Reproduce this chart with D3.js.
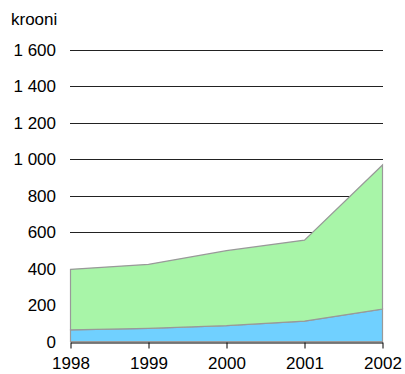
<!DOCTYPE html>
<html><head><meta charset="utf-8">
<script src="https://cdn.jsdelivr.net/npm/d3@7"></script>
<style>body{margin:0;background:#fff}svg{display:block}text{font-family:"Liberation Sans",Arial,sans-serif;font-size:17px;fill:#000}</style>
</head><body>
<svg id="c" width="405" height="374"></svg>
<script>
const years = [1998, 1999, 2000, 2001, 2002];
const seriesA = [65, 73, 88, 113, 179];
const seriesB = [332, 351, 411, 444, 790];
const yTicks = [0, 200, 400, 600, 800, 1000, 1200, 1400, 1600];
const unitLabel = "krooni";

const svg = d3.select("#c");
const x = d3.scaleLinear().domain([1998, 2002]).range([70.5, 382.5]);
const y = d3.scaleLinear().domain([0, 1600]).range([341.7, 49.9]);
const fmt = v => d3.format(",")(v).replace(/,/g, "\u00a0");

// gridlines
svg.append("g").selectAll("line").data(yTicks.filter(d => d > 0)).join("line")
  .attr("x1", 70).attr("x2", 383)
  .attr("y1", d => Math.round(y(d)) + 0.5).attr("y2", d => Math.round(y(d)) + 0.5)
  .attr("stroke", "#222").attr("stroke-width", 1);

const data = years.map((yr, i) => ({yr, a: seriesA[i], b: seriesB[i]}));
const stack = d3.stack().keys(["a", "b"])(data);
const colors = ["#70d0ff", "#a8f5a8"];
const area = d3.area().x(d => x(d.data.yr)).y0(d => y(d[0])).y1(d => y(d[1]));
svg.append("g").selectAll("path").data(stack).join("path")
  .attr("d", area).attr("fill", (d, i) => colors[i])
  .attr("stroke", "#999").attr("stroke-width", 1.2);

// y labels
svg.append("g").selectAll("text").data(yTicks).join("text")
  .attr("x", 56).attr("y", d => y(d) + 6).attr("text-anchor", "end").text(fmt);

svg.append("text").attr("x", 11).attr("y", 25).text(unitLabel);

// x axis
const xAxis = d3.axisBottom(x).tickValues(years).tickFormat(d3.format("d")).tickSize(6).tickSizeOuter(0);
const gx = svg.append("g").attr("transform", `translate(0,${Math.round(y(0)) + 0.5})`).call(xAxis);
gx.select(".domain").attr("stroke", "#000");
gx.selectAll(".tick line").attr("stroke", "#000");
gx.selectAll(".tick text").attr("font-size", 17).attr("font-family", "Liberation Sans, Arial, sans-serif")
  .attr("dy", null).attr("y", 26.5).attr("fill", "#000");
</script>
</body></html>
